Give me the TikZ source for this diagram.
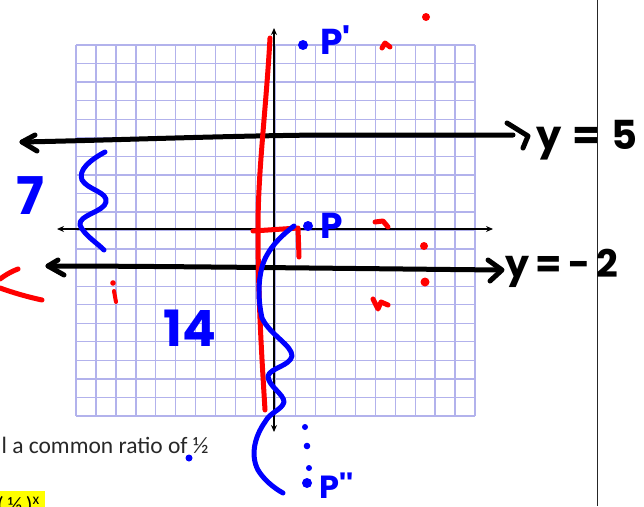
\documentclass[tikz,border=0pt]{standalone}
\usepackage{fontspec}
\setmainfont{Carlito}
\newfontfamily\hand{Poppins}
\usetikzlibrary{arrows.meta}
\definecolor{gridc}{RGB}{178,178,236}
\definecolor{pred}{RGB}{255,0,0}
\definecolor{pblue}{RGB}{0,0,255}
\definecolor{hl}{RGB}{255,255,0}
\definecolor{txt}{RGB}{40,40,40}
\begin{document}
\begin{tikzpicture}[x=1pt,y=-1pt,
  gridline/.style={draw=gridc,line width=1.3pt},
  axisline/.style={draw=black,line width=1.3pt,{Stealth[length=7pt,width=6pt]}-{Stealth[length=7pt,width=6pt]}},
  ink/.style={line width=5pt,line cap=round,line join=round},
  redink/.style={ink,draw=pred},
  blueink/.style={ink,draw=pblue},
  blackink/.style={ink,draw=black},
  handlabel/.style={inner sep=0pt,font=\hand\bfseries},
  dotb/.style={fill=pblue},
  dotr/.style={fill=pred}
]
\useasboundingbox (0,0) rectangle (644,506);
\fill[white] (0,0) rectangle (644,506);
% grid
\foreach \i in {0,...,20} {
  \draw[gridline] ({76+\i*19.95},45) -- ({76+\i*19.95},416);
  \draw[gridline] (76,{45+\i*18.55}) -- (475,{45+\i*18.55});
}
% axes
\coordinate (xl) at (57,229); \coordinate (xr) at (493,229);
\coordinate (yt) at (274,28); \coordinate (yb) at (274,432);
\draw[axisline] (xl) -- (xr);
\draw[axisline] (yt) -- (yb);
% right rule
\draw[line width=1pt,draw=black!85] (597,0) -- (597,506);
% printed text
\node[anchor=base east,inner sep=0pt,font=\fontsize{23.5}{27}\selectfont,text=txt] (ratio) at (209,453) {l a common ratio of ½};
\fill[hl] (0,491) rectangle (45,507);
\node[anchor=base west,inner sep=0pt,font=\fontsize{22}{26}\selectfont,text=black] (formula) at (-3,512) {(\,½\,)\textsuperscript{x}};
% black hand-drawn lines y=5 and y=-2
\draw[blackink] (22,142) .. controls (120,140) and (220,136) .. (320,135) -- (513,135);
\draw[blackink] (35,135) -- (22,142) -- (37,151);
\draw[blackink] (507,123) -- (528,136) -- (523,148);
\node[handlabel,anchor=west] (yfive) at (536,140) {\fontsize{40}{44}\selectfont y\;=\;5};
\draw[blackink] (48,266) .. controls (150,266) and (300,268) .. (500,270);
\draw[blackink] (58,260) -- (48,266) -- (64,275);
\draw[blackink] (488,260) -- (502,270) -- (490,281);
\node[handlabel,anchor=west] (ytwo) at (505,268) {\fontsize{38}{42}\selectfont y\,=\,-\,2};
% red ink
\draw[redink] (270,38) .. controls (266,110) and (258,170) .. (258,228) .. controls (258,300) and (262,360) .. (265,410);
\draw[redink] (253,231) -- (298,228) -- (299,257);
\draw[redink] (18,269) .. controls (10,272) and (4,276) .. (0,279);
\draw[redink] (0,288) .. controls (14,293) and (28,297) .. (42,300);
\fill[dotr] (113,283) circle (2.8);
\draw[redink,line width=4pt] (114,291) -- (116,302);
\fill[dotr] (426,17) circle (4);
\fill[dotr] (424,246) circle (4);
\fill[dotr] (425,282) circle (4.5);
\draw[redink,line width=5pt] (382,48) -- (385,43) -- (390,47);
\draw[redink,line width=5pt] (375,222) -- (383,221) -- (388,227);
\draw[redink,line width=5pt] (373,299) -- (378,309) -- (381,302) -- (388,305);
% blue ink
\node[handlabel,anchor=center,text=pblue] (seven) at (30,196) {\fontsize{52}{56}\selectfont 7};
\draw[blueink] (105,152) .. controls (90,160) and (78,170) .. (82,180) .. controls (88,190) and (108,192) .. (106,202) .. controls (104,212) and (78,215) .. (80,225) .. controls (84,235) and (96,242) .. (104,250);
\node[handlabel,anchor=center,text=pblue] (fourteen) at (190,328) {\fontsize{50}{54}\selectfont 14};
\draw[blueink] (294,226) .. controls (278,238) and (266,252) .. (262,267) .. controls (258,282) and (258,300) .. (262,318) .. controls (270,335) and (292,345) .. (292,356) .. controls (290,366) and (270,368) .. (268,376) .. controls (268,386) and (284,394) .. (284,402) .. controls (282,410) and (270,412) .. (265,422) .. controls (255,436) and (250,455) .. (258,470) .. controls (264,480) and (274,488) .. (283,493);
\fill[dotb] (303,45) circle (5);
\node[handlabel,anchor=west,text=pblue] (pprime) at (320,40) {\fontsize{36}{40}\selectfont P'};
\fill[dotb] (308,226) circle (5);
\node[handlabel,anchor=west,text=pblue] (p) at (320,226) {\fontsize{36}{40}\selectfont P};
\fill[dotb] (305,427) circle (3);
\fill[dotb] (307,446) circle (3.3);
\fill[dotb] (309,468) circle (3);
\fill[dotb] (307,483) circle (5);
\node[handlabel,anchor=base west,text=pblue] (pdprime) at (319,498) {\fontsize{32}{36}\selectfont P''};
\fill[dotb] (189,458) circle (3.5);
\end{tikzpicture}
\end{document}
